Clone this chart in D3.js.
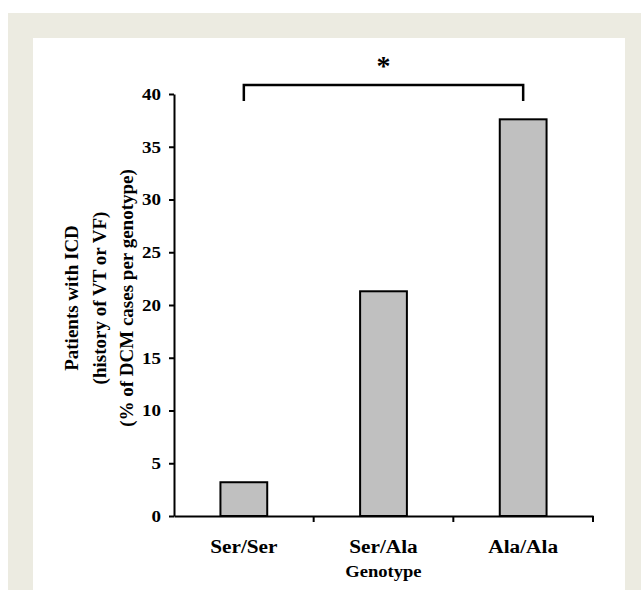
<!DOCTYPE html>
<html><head><meta charset="utf-8">
<script src="https://cdn.jsdelivr.net/npm/d3@7"></script>
<style>body{margin:0;background:#fff}svg{display:block}</style>
</head><body>
<script>
const categories = ["Ser/Ser", "Ser/Ala", "Ala/Ala"];
const values = [3.2, 21.3, 37.6];
const yTicks = [0, 5, 10, 15, 20, 25, 30, 35, 40];
const yTitleLines = ["Patients with ICD", "(history of VT or VF)", "(% of DCM cases per genotype)"];
const xTitle = "Genotype";
const sigLabel = "*";

const W = 641, H = 590;
const svg = d3.select("body").append("svg").attr("width", W).attr("height", H);
const font = "'Liberation Serif','Times New Roman',serif";

function stretch(sel, sx) {
  sel.each(function () {
    const t = d3.select(this);
    const x0 = +t.attr("x") || 0;
    t.attr("transform", `translate(${x0 * (1 - sx)},0) scale(${sx},1)`);
  });
}

svg.append("rect").attr("x", 8).attr("y", 13).attr("width", W - 8).attr("height", H - 13).attr("fill", "#ecebe1");
svg.append("rect").attr("x", 33).attr("y", 38).attr("width", 592).attr("height", H - 38).attr("fill", "#fff");

const x0 = 174, x1 = 593, yBase = 516, yTop = 94;
const x = d3.scaleBand().domain(categories).range([x0, x1]).padding(0);
const y = d3.scaleLinear().domain([0, 40]).range([yBase, yTop]);
const barW = x.bandwidth() * 0.335;

// bars
svg.append("g").selectAll("rect").data(values).join("rect")
  .attr("x", (d, i) => x(categories[i]) + x.bandwidth() / 2 - barW / 2)
  .attr("y", d => y(d))
  .attr("width", barW)
  .attr("height", d => y(0) - y(d))
  .attr("fill", "#c0c0c0").attr("stroke", "#000").attr("stroke-width", 2);

// y axis
const gy = svg.append("g").attr("transform", `translate(${x0},0)`)
  .call(d3.axisLeft(y).tickValues(yTicks).tickSize(5).tickPadding(8).tickSizeOuter(0));
gy.select(".domain").attr("stroke-width", 2);
gy.selectAll(".tick line").attr("stroke-width", 2);
gy.selectAll("text").attr("font-family", font).attr("font-weight", "bold").attr("font-size", 17).attr("fill", "#000");
stretch(gy.selectAll("text"), 1.12);

// x axis
const gx = svg.append("g").attr("transform", `translate(0,${yBase})`)
  .call(d3.axisBottom(x).tickSize(0).tickPadding(24).tickSizeOuter(0));
gx.select(".domain").attr("stroke-width", 2);
gx.selectAll("text").attr("font-family", font).attr("font-weight", "bold").attr("font-size", 19).attr("fill", "#000");
stretch(gx.selectAll("text"), 1.12);
// boundary ticks
const bounds = categories.slice(1).map(c => x(c)).concat([x.range()[1]]);
gx.selectAll(".btick").data(bounds).join("line").attr("class", "btick")
  .attr("x1", d => d).attr("x2", d => d).attr("y1", 0).attr("y2", 6)
  .attr("stroke", "#000").attr("stroke-width", 2);

// x title
const xt = svg.append("text").attr("x", (x0 + x1) / 2).attr("y", 577).attr("text-anchor", "middle")
  .attr("font-family", font).attr("font-weight", "bold").attr("font-size", 16).text(xTitle);
stretch(xt, 1.16);

// y title
const yt = svg.append("text").attr("transform", `translate(0,298) rotate(-90)`)
  .attr("text-anchor", "middle").attr("font-family", font).attr("font-weight", "bold").attr("font-size", 19);
yTitleLines.forEach((t, i) => yt.append("tspan").attr("x", 0).attr("y", 78 + i * 27.5).text(t));

// significance bracket
const cx0 = x(categories[0]) + x.bandwidth() / 2, cx2 = x(categories[2]) + x.bandwidth() / 2;
const by = 85;
svg.append("path").attr("d", `M${cx0},${by + 16}V${by}H${cx2}V${by + 16}`)
  .attr("fill", "none").attr("stroke", "#000").attr("stroke-width", 2.5);
svg.append("text").attr("x", (cx0 + cx2) / 2).attr("y", 75).attr("text-anchor", "middle")
  .attr("font-family", font).attr("font-weight", "bold").attr("font-size", 28).text(sigLabel);
</script>
</body></html>
